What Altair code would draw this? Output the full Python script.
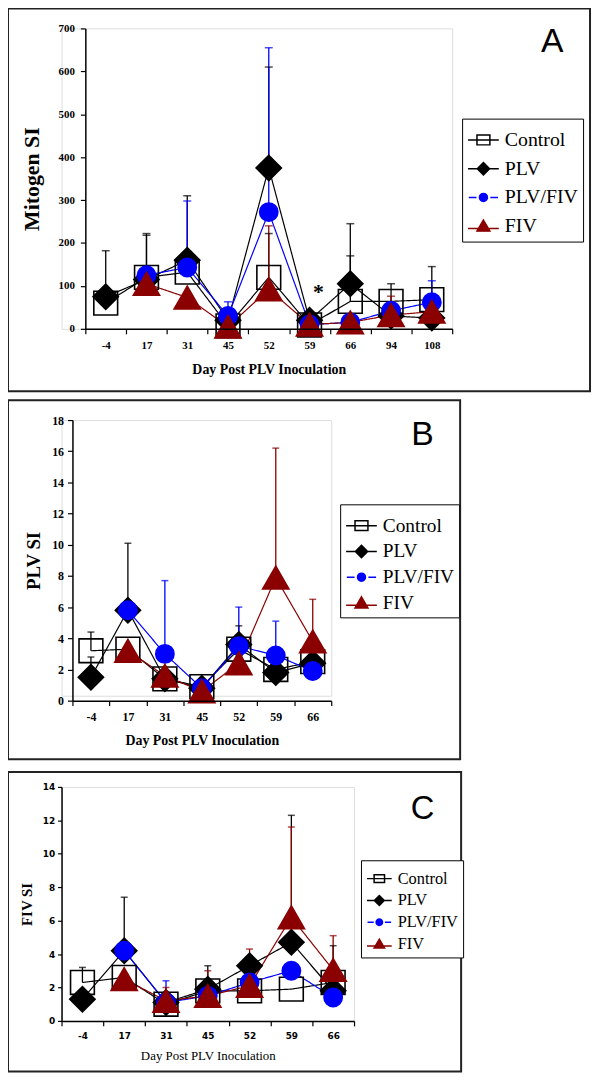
import altair as alt
import pandas as pd

SERIES = ["Control", "PLV", "PLV/FIV", "FIV"]
LINE_COLORS = ["#000000", "#000000", "#0000FF", "#8B0000"]
FILL_COLORS = ["transparent", "#000000", "#0000FF", "#8B0000"]
MARK_SHAPES = ["square", "diamond", "circle", "triangle-up"]
LEGEND_SHAPES = [
    "M-1,0H1M-0.42,-0.32H0.42V0.32H-0.42Z",
    "M-1,0H1M0,-0.4L0.4,0L0,0.4L-0.4,0Z",
    "M-0.95,0H-0.45M0.45,0H0.95M-0.26,0A0.26,0.26,0,1,0,0.26,0A0.26,0.26,0,1,0,-0.26,0Z",
    "M-1,0.15H1M0,-0.4L0.42,0.32L-0.42,0.32Z",
]

# ---------------- Panel A : Mitogen SI ----------------
A_days = ["-4", "17", "31", "45", "52", "59", "66", "94", "108"]
A_control = [60, 120, 132, 7, 120, 9, 64, 64, 68]
A_plv = [75, 115, 160, 20, 375, 20, 105, 30, 25]
A_plvfiv = [None, 125, 143, 30, 272, 10, 15, 42, 62]
A_fiv = [None, 105, 73, 5, 92, 10, 15, 32, 40]
A_control_top = [182, 222, None, None, 222, None, 170, 105, 145]
A_plv_top = [None, 218, 310, None, 610, None, 245, None, None]
A_plvfiv_top = [None, None, 298, 63, 655, None, None, None, 112]
A_fiv_top = [None, None, None, None, 240, None, None, 76, None]
A_yticks = [0, 100, 200, 300, 400, 500, 600, 700]

# ---------------- Panel B : PLV SI ----------------
B_days = ["-4", "17", "31", "45", "52", "59", "66"]
B_control = [3.2, 3.3, 1.4, 0.9, 3.3, 2.0, 2.5]
B_plv = [1.5, 5.8, 1.4, 0.8, 3.6, 1.8, 2.4]
B_plvfiv = [None, 5.8, 3.0, 0.8, 3.5, 2.9, 1.9]
B_fiv = [None, 3.2, 1.6, 0.6, 2.4, 7.9, 3.8]
B_control_top = [4.4, None, None, None, None, 2.8, None]
B_plv_top = [2.8, 10.1, None, None, 4.8, None, None]
B_plvfiv_top = [None, None, 7.7, None, 6.0, 5.1, None]
B_fiv_top = [None, None, None, None, None, 16.2, 6.5]
B_yticks = [0, 2, 4, 6, 8, 10, 12, 14, 16, 18]

# ---------------- Panel C : FIV SI ----------------
C_days = ["-4", "17", "31", "45", "52", "59", "66"]
C_control = [2.3, 2.6, 1.0, 1.8, 1.8, 1.9, 2.3]
C_plv = [1.3, 4.2, 1.1, 1.9, 3.3, 4.7, 1.8]
C_plvfiv = [None, 4.2, 1.1, 1.5, 2.3, 3.0, 1.4]
C_fiv = [None, 2.5, 1.2, 1.5, 2.1, 6.2, 3.05]
C_control_top = [3.2, None, None, None, None, None, None]
C_plv_top = [None, 7.4, None, 3.3, None, 12.3, 4.5]
C_plvfiv_top = [None, None, 2.4, None, None, None, None]
C_fiv_top = [None, None, 2.0, 3.0, 4.3, 11.6, 5.1]
C_yticks = [0, 2, 4, 6, 8, 10, 12, 14]


def build_df(days, vals, tops):
    rows = []
    for s, vv, tt in zip(SERIES, vals, tops):
        for i, (d, v, t) in enumerate(zip(days, vv, tt)):
            if v is None:
                continue
            rows.append(dict(day=d, idx=i, series=s, value=v, top=t))
    return pd.DataFrame(rows)


def panel(df, days, ymax, yticks, sizes, ytitle, cfg):
    serif = "Liberation Serif"
    xaxis = alt.Axis(
        title="Day Post PLV Inoculation", labelAngle=0, tickBand="extent",
        grid=False, tickSize=5, tickColor="black", tickWidth=1.2,
        domainColor="black", domainWidth=1.5, zindex=1, offset=cfg["xoff"],
        labelFont=cfg["lab_font"], labelFontWeight="bold",
        labelFontSize=cfg["lab_size"], labelColor="black", labelPadding=cfg["xlabpad"],
        titleFont=serif, titleFontWeight=cfg["xtitle_weight"],
        titleFontSize=cfg["xtitle_size"], titleColor="black", titlePadding=cfg["xtitlepad"],
    )
    yaxis = alt.Axis(
        title=ytitle, values=yticks, grid=False, tickSize=cfg["ytick"], tickColor="black",
        tickWidth=1.2, domainColor="black", domainWidth=1.5, zindex=1, offset=cfg["yoff"],
        labelFont=cfg["lab_font"], labelFontWeight="bold",
        labelFontSize=cfg["lab_size"], labelColor="black", labelPadding=cfg["ylabpad"],
        titleFont=serif, titleFontWeight="bold", titleFontSize=cfg["ytitle_size"],
        titleColor="black", titlePadding=cfg["ytitlepad"],
    )
    xscale = alt.Scale(type="band", domain=days, paddingInner=0, paddingOuter=0,
                       range=cfg["xrange"])
    yscale = alt.Scale(domain=[0, ymax], nice=False, range=cfg["yrange"])
    X = alt.X("day:O", scale=xscale, axis=xaxis)
    Y = alt.Y("value:Q", scale=yscale, axis=yaxis)
    color = alt.Color("series:N", scale=alt.Scale(domain=SERIES, range=LINE_COLORS),
                      legend=None)

    base = alt.Chart(df)
    x0, x1, y0, y1 = cfg["border"]
    border = alt.Chart(pd.DataFrame({"k": [0]})).mark_rect(
        fill="white", fillOpacity=0, stroke="#222222", strokeWidth=2
    ).encode(x=alt.value(x0), x2=alt.value(x1), y=alt.value(y0), y2=alt.value(y1))

    dash = alt.StrokeDash("series:N", scale=alt.Scale(
        domain=SERIES, range=[[1, 0], [1, 0], cfg["dash"], [1, 0]]), legend=None)
    lines = base.mark_line(strokeWidth=1.2).encode(
        x=X, y=Y, color=color, strokeDash=dash, order="idx:Q")

    errdf = df[df["top"].notna()]
    ebase = alt.Chart(errdf)
    rules = ebase.mark_rule(strokeWidth=1.3).encode(x=X, y=Y, y2="top:Q", color=color)
    caps = ebase.mark_tick(thickness=1.5, size=cfg["cap"]).encode(
        x=X, y=alt.Y("top:Q", scale=yscale, axis=yaxis), color=color)

    points = base.mark_point(filled=True, strokeWidth=1.6, opacity=1).encode(
        x=X, y=Y,
        shape=alt.Shape("series:N", scale=alt.Scale(domain=SERIES, range=MARK_SHAPES),
                        legend=None),
        fill=alt.Fill("series:N", scale=alt.Scale(domain=SERIES, range=FILL_COLORS),
                      legend=None),
        stroke=alt.Stroke("series:N", scale=alt.Scale(domain=SERIES, range=LINE_COLORS),
                          legend=None),
        size=alt.Size("series:N", scale=alt.Scale(type="ordinal", domain=SERIES,
                                                  range=sizes), legend=None),
    )

    lx, ly, lfs, lss, lrp = cfg["legend"]
    leg = alt.Legend(
        orient="none", legendX=lx, legendY=ly, title=None, direction="vertical",
        labelFont=serif, labelFontSize=lfs, labelColor="black", symbolSize=lss,
        symbolStrokeWidth=1.5, symbolOpacity=1, rowPadding=lrp, labelOffset=5,
        padding=5, strokeColor="black", fillColor="white", labelLimit=300,
    )
    legend_layer = base.mark_point(filled=True, opacity=0).encode(
        x=X, y=Y,
        shape=alt.Shape("series:N", scale=alt.Scale(domain=SERIES, range=LEGEND_SHAPES),
                        legend=leg),
        fill=alt.Fill("series:N", scale=alt.Scale(domain=SERIES, range=FILL_COLORS),
                      legend=leg),
        stroke=alt.Stroke("series:N", scale=alt.Scale(domain=SERIES, range=LINE_COLORS),
                          legend=leg),
    )

    tx, ty, tsize = cfg["letter_pos"]
    letter = alt.Chart(pd.DataFrame({"k": [0]})).mark_text(
        text=cfg["letter"], font="Liberation Sans", fontSize=tsize, color="black",
        align="center", baseline="middle"
    ).encode(x=alt.value(tx), y=alt.value(ty))

    layers = [border, lines, rules, caps, points, legend_layer, letter]
    if "star" in cfg:
        sd, sv = cfg["star"]
        star = alt.Chart(pd.DataFrame({"day": sd, "value": sv})).mark_text(
            text="*", fontSize=22, fontWeight="bold", color="black", dx=9, dy=6,
            font="Liberation Serif"
        ).encode(x=alt.X("day:O", scale=xscale, axis=xaxis),
                 y=alt.Y("value:Q", scale=yscale, axis=yaxis))
        layers.append(star)
    return alt.layer(*layers).resolve_scale(
        shape="independent", fill="independent", stroke="independent"
    ).properties(width=cfg["w"], height=cfg["h"])


dfA = build_df(A_days, [A_control, A_plv, A_plvfiv, A_fiv],
               [A_control_top, A_plv_top, A_plvfiv_top, A_fiv_top])
dfB = build_df(B_days, [B_control, B_plv, B_plvfiv, B_fiv],
               [B_control_top, B_plv_top, B_plvfiv_top, B_fiv_top])
dfC = build_df(C_days, [C_control, C_plv, C_plvfiv, C_fiv],
               [C_control_top, C_plv_top, C_plvfiv_top, C_fiv_top])

A_star_day = ["59"]
A_star_val = [100]

cfgA = dict(w=394, h=303, xrange=[24, 394], yrange=[303, 0], xoff=0, yoff=-24,
            lab_font="Liberation Serif", lab_size=11, xlabpad=6, ylabpad=6, ytick=5,
            xtitle_weight="bold", xtitle_size=14, xtitlepad=12,
            ytitle_size=22, ytitlepad=15,
            border=(-54, 533, -20, 366), dash=[1, 0], cap=8,
            legend=(404, 91, 20, 961, 2), letter="A", letter_pos=(495, 14, 34),
            star=(A_star_day, A_star_val))
cfgB = dict(w=272, h=278, xrange=[11, 272], yrange=[283, 0], xoff=5, yoff=-11,
            lab_font="Liberation Serif", lab_size=12, xlabpad=6, ylabpad=4, ytick=5,
            xtitle_weight="bold", xtitle_size=14, xtitlepad=11,
            ytitle_size=19, ytitlepad=8,
            border=(-54, 402, -20, 342), dash=[1, 0], cap=7,
            legend=(281, 85, 19.5, 961, -1.5), letter="B", letter_pos=(364, 15, 34))
cfgC = dict(w=295, h=236, xrange=[0, 295], yrange=[236, 0], xoff=0, yoff=0,
            lab_font="DejaVu Sans", lab_size=9, xlabpad=6, ylabpad=3, ytick=4,
            xtitle_weight="normal", xtitle_size=13, xtitlepad=9,
            ytitle_size=15, ytitlepad=8,
            border=(-54, 403, -15, 287), dash=[4, 2], cap=7,
            legend=(302, 74, 16.5, 625, -1.7), letter="C", letter_pos=(364, 22, 33))

pA = panel(dfA, A_days, 700, A_yticks, [576, 650, 340, 700], "Mitogen SI", cfgA)
pB = panel(dfB, B_days, 18, B_yticks, [484, 440, 260, 500], "PLV SI", cfgB)
pC = panel(dfC, C_days, 14, C_yticks, [300, 300, 180, 360], "FIV SI", cfgC)

chart = alt.vconcat(pA, pB, pC, spacing=92, bounds="flush").properties(
    padding={"left": -2, "top": -6, "right": 0, "bottom": 0}
).configure_view(stroke=None).configure(background="white")

chart.save("out.html", embed_options={"renderer": "svg", "actions": False})
